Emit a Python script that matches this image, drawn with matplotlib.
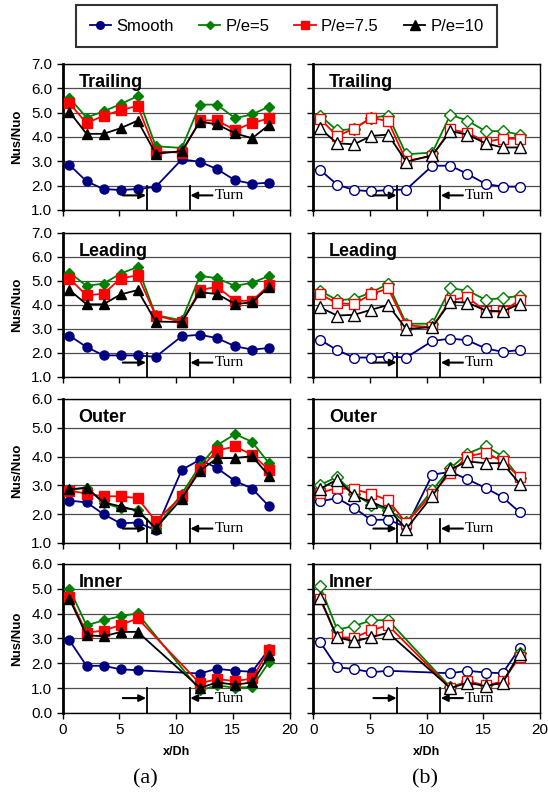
import matplotlib.pyplot as plt
import matplotlib.transforms as mtrans
from matplotlib.lines import Line2D

# x/Dh stations
x_all = [0.6, 2.1, 3.6, 5.1, 6.6, 8.2, 10.5, 12.1, 13.6, 15.2, 16.7, 18.2]
x_inner = [0.6, 2.1, 3.6, 5.1, 6.6, 12.1, 13.6, 15.2, 16.7, 18.2]

series = ['Smooth', 'P/e=5', 'P/e=7.5', 'P/e=10']

# (a) Nus/Nuo
trail_a_smooth = [2.85, 2.18, 1.86, 1.82, 1.86, 1.95, 3.08, 2.98, 2.68, 2.22, 2.08, 2.12]
trail_a_pe5 = [5.6, 4.8, 5.05, 5.35, 5.68, 3.62, 3.55, 5.33, 5.33, 4.77, 4.93, 5.25]
trail_a_pe75 = [5.38, 4.57, 4.87, 5.1, 5.28, 3.4, 3.36, 4.68, 4.68, 4.28, 4.58, 4.76]
trail_a_pe10 = [5.03, 4.13, 4.13, 4.36, 4.67, 3.31, 3.42, 4.63, 4.52, 4.15, 3.95, 4.5]

lead_a_smooth = [2.72, 2.25, 1.9, 1.9, 1.9, 1.84, 2.7, 2.76, 2.62, 2.28, 2.14, 2.21]
lead_a_pe5 = [5.35, 4.8, 4.89, 5.31, 5.58, 3.58, 3.36, 5.21, 5.12, 4.79, 4.93, 5.21]
lead_a_pe75 = [5.1, 4.4, 4.47, 5.1, 5.24, 3.56, 3.29, 4.62, 4.76, 4.17, 4.18, 4.83]
lead_a_pe10 = [4.62, 4.03, 4.03, 4.44, 4.62, 3.31, 3.29, 4.53, 4.46, 4.04, 4.11, 4.76]

outer_a_smooth = [2.47, 2.41, 2.0, 1.68, 1.71, 1.45, 3.54, 3.89, 3.6, 3.15, 2.89, 2.27]
outer_a_pe5 = [2.84, 2.92, 2.39, 2.21, 2.15, 1.51, 2.71, 3.68, 4.39, 4.78, 4.51, 3.76]
outer_a_pe75 = [2.82, 2.71, 2.62, 2.62, 2.56, 1.76, 2.62, 3.56, 4.21, 4.35, 4.06, 3.54]
outer_a_pe10 = [2.86, 2.92, 2.41, 2.27, 2.12, 1.51, 2.54, 3.51, 3.94, 3.95, 4.01, 3.33]

inner_a_smooth = [2.92, 1.9, 1.9, 1.76, 1.72, 1.59, 1.78, 1.7, 1.66, 2.58]
inner_a_pe5 = [5.0, 3.53, 3.73, 3.9, 4.01, 0.91, 1.11, 1.02, 1.05, 2.05]
inner_a_pe75 = [4.66, 3.23, 3.32, 3.54, 3.81, 1.19, 1.37, 1.28, 1.39, 2.55]
inner_a_pe10 = [4.59, 3.13, 3.09, 3.26, 3.27, 1.01, 1.23, 1.14, 1.23, 2.32]

# (b) Nus/Nuo
trail_b_smooth = [2.65, 2.04, 1.82, 1.77, 1.82, 1.84, 2.82, 2.82, 2.48, 2.07, 1.96, 1.96]
trail_b_pe5 = [4.88, 4.27, 4.33, 4.79, 4.88, 3.29, 3.36, 4.92, 4.67, 4.24, 4.24, 4.1]
trail_b_pe75 = [4.75, 4.04, 4.34, 4.79, 4.65, 3.02, 3.22, 4.31, 4.18, 3.8, 3.93, 3.93]
trail_b_pe10 = [4.35, 3.74, 3.7, 4.04, 4.1, 2.98, 3.25, 4.24, 4.1, 3.74, 3.57, 3.57]

lead_b_smooth = [2.55, 2.12, 1.81, 1.81, 1.85, 1.81, 2.5, 2.6, 2.53, 2.19, 2.05, 2.12]
lead_b_pe5 = [4.6, 4.2, 4.25, 4.52, 4.88, 3.22, 3.22, 4.7, 4.6, 4.22, 4.29, 4.38]
lead_b_pe75 = [4.45, 4.07, 4.04, 4.45, 4.69, 3.15, 3.08, 4.2, 4.33, 3.73, 3.73, 4.2]
lead_b_pe10 = [3.9, 3.56, 3.59, 3.8, 4.0, 3.0, 3.08, 4.13, 4.1, 3.77, 3.73, 4.04]

outer_b_smooth = [2.44, 2.56, 2.22, 1.8, 1.81, 1.55, 3.37, 3.47, 3.21, 2.91, 2.59, 2.07]
outer_b_pe5 = [3.02, 3.29, 2.71, 2.33, 2.16, 1.72, 2.83, 3.6, 4.1, 4.37, 4.01, 3.26]
outer_b_pe75 = [2.74, 2.91, 2.86, 2.71, 2.48, 1.69, 2.71, 3.43, 4.0, 4.14, 3.83, 3.29]
outer_b_pe10 = [2.88, 3.2, 2.65, 2.42, 2.19, 1.49, 2.63, 3.56, 3.83, 3.77, 3.77, 3.06]

inner_b_smooth = [2.86, 1.84, 1.77, 1.64, 1.7, 1.6, 1.7, 1.63, 1.6, 2.6]
inner_b_pe5 = [5.11, 3.36, 3.5, 3.73, 3.74, 1.04, 1.27, 1.11, 1.22, 2.41]
inner_b_pe75 = [4.59, 3.05, 3.03, 3.33, 3.53, 1.0, 1.27, 1.11, 1.27, 2.25]
inner_b_pe10 = [4.63, 3.05, 2.88, 3.05, 3.23, 1.0, 1.22, 1.08, 1.22, 2.38]

titles = ['Trailing', 'Leading', 'Outer', 'Inner']
ylims = [(1, 7), (1, 7), (1, 6), (0, 6)]
yticks = [[1, 2, 3, 4, 5, 6, 7], [1, 2, 3, 4, 5, 6, 7], [1, 2, 3, 4, 5, 6], [0, 1, 2, 3, 4, 5, 6]]
xs = [x_all, x_all, x_all, x_inner]

data_a = [[trail_a_smooth, trail_a_pe5, trail_a_pe75, trail_a_pe10],
          [lead_a_smooth, lead_a_pe5, lead_a_pe75, lead_a_pe10],
          [outer_a_smooth, outer_a_pe5, outer_a_pe75, outer_a_pe10],
          [inner_a_smooth, inner_a_pe5, inner_a_pe75, inner_a_pe10]]
data_b = [[trail_b_smooth, trail_b_pe5, trail_b_pe75, trail_b_pe10],
          [lead_b_smooth, lead_b_pe5, lead_b_pe75, lead_b_pe10],
          [outer_b_smooth, outer_b_pe5, outer_b_pe75, outer_b_pe10],
          [inner_b_smooth, inner_b_pe5, inner_b_pe75, inner_b_pe10]]

colors = ['#000080', '#008000', '#ff0000', '#000000']
markers = ['o', 'D', 's', '^']
msize_a = [6.5, 5.5, 6.5, 7.5]
msize_b = [7, 6, 7, 8.5]

plt.rcParams['font.family'] = ['Liberation Sans', 'DejaVu Sans']
fig = plt.figure(figsize=(5.48, 7.93), dpi=100)

# axes boxes (left, bottom, width, height) in figure fraction
rows = [(0.7352, 0.1841), (0.5246, 0.1816), (0.3153, 0.1816), (0.1009, 0.1879)]
cols = [(0.1144, 0.414), (0.5717, 0.4137)]


def draw_panel(ax, r, data, filled):
    for k in range(4):
        if filled:
            mfc = colors[k]
            ms = msize_a[k]
        else:
            mfc = 'white'
            ms = msize_b[k]
        ax.plot(xs[r], data[k], color=colors[k], marker=markers[k], ms=ms,
                mfc=mfc, mec=colors[k], mew=1.0, lw=1.3, zorder=3 + k)
    ax.set_xlim(0, 20)
    ax.set_ylim(ylims[r])
    ax.set_yticks(yticks[r])
    ax.set_xticks([0, 5, 10, 15, 20])
    ax.yaxis.grid(True, color='0.3', lw=0.9)
    ax.set_axisbelow(True)
    ax.tick_params(direction='out', length=4, width=1, labelsize=11)
    ax.spines['left'].set_linewidth(2)
    for s in ['top', 'right', 'bottom']:
        ax.spines[s].set_linewidth(1)
    ax.text(0.07, 0.93, titles[r], transform=ax.transAxes, fontsize=13,
            fontweight='bold', va='top', ha='left')
    # turn markers
    tr = mtrans.blended_transform_factory(ax.transData, ax.transAxes)
    ax.plot([7.4, 7.4], [0, 0.165], color='black', lw=1.3, transform=tr, clip_on=False)
    ax.plot([11.2, 11.2], [0, 0.165], color='black', lw=1.3, transform=tr, clip_on=False)
    ax.annotate('', xy=(7.35, 0.1), xytext=(5.3, 0.1), xycoords=tr, textcoords=tr,
                arrowprops=dict(arrowstyle='-|>', color='black', lw=1.5, mutation_scale=10,
                                shrinkA=0, shrinkB=0))
    ax.annotate('', xy=(11.25, 0.1), xytext=(13.2, 0.1), xycoords=tr, textcoords=tr,
                arrowprops=dict(arrowstyle='-|>', color='black', lw=1.5, mutation_scale=10,
                                shrinkA=0, shrinkB=0))
    ax.text(13.4, 0.1, 'Turn', transform=tr, fontsize=11, family='Liberation Serif',
            va='center', ha='left')


for r in range(4):
    axa = fig.add_axes([cols[0][0], rows[r][0], cols[0][1], rows[r][1]])
    draw_panel(axa, r, data_a[r], True)
    axa.yaxis.set_major_formatter(plt.FormatStrFormatter('%.1f'))
    axa.set_ylabel('Nus/Nuo', fontsize=9.5, fontweight='bold', labelpad=6)

    axb = fig.add_axes([cols[1][0], rows[r][0], cols[1][1], rows[r][1]])
    draw_panel(axb, r, data_b[r], False)
    axb.set_yticklabels([])

    if r == 3:
        axa.set_xlabel('x/Dh', fontsize=9, fontweight='bold', labelpad=6)
        axb.set_xlabel('x/Dh', fontsize=9, fontweight='bold', labelpad=6)
    else:
        axa.set_xticklabels([])
        axb.set_xticklabels([])

fig.text(0.266, 0.012, '(a)', fontsize=16, family='Liberation Serif', ha='center')
fig.text(0.776, 0.012, '(b)', fontsize=16, family='Liberation Serif', ha='center')

handles = [Line2D([], [], color=colors[k], marker=markers[k], ms=msize_a[k] - 1,
                  mfc=colors[k], mec=colors[k], lw=1.3) for k in range(4)]
leg = fig.legend(handles, series, loc='center', bbox_to_anchor=(0.523, 0.967), ncol=4,
                 fontsize=12, frameon=True, fancybox=False, edgecolor='black',
                 handlelength=1.3, handletextpad=0.3, columnspacing=1.5, borderpad=0.8)
leg.get_frame().set_linewidth(1.5)

fig.savefig('out.png', dpi=100)
